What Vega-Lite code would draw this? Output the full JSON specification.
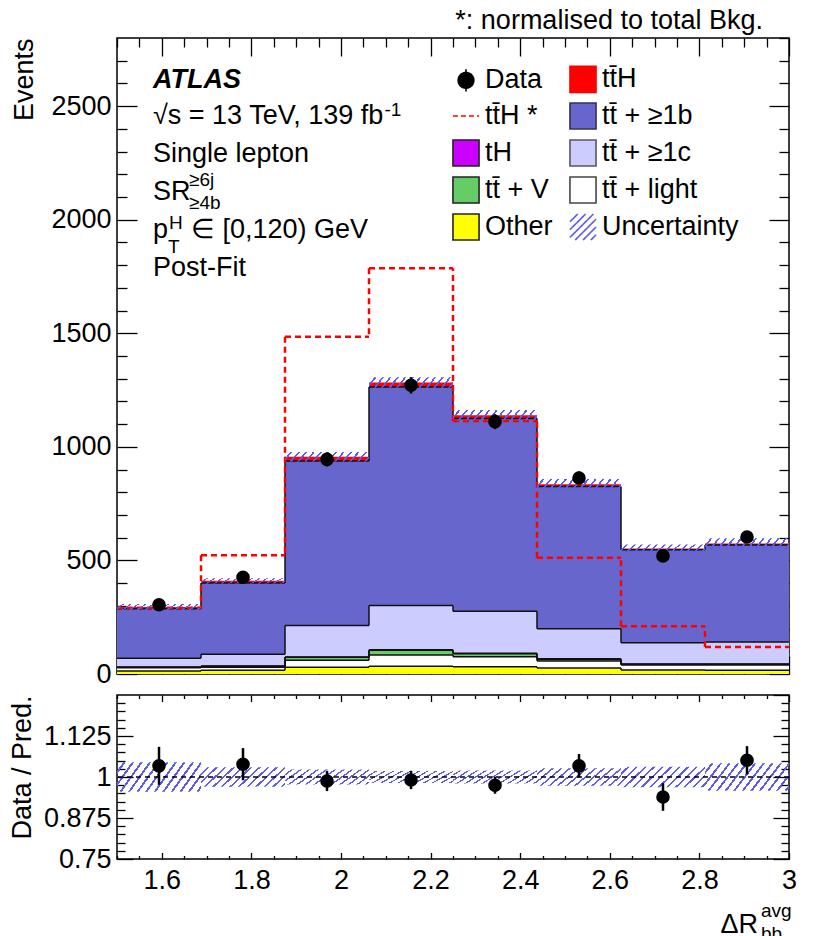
{
  "$schema": "https://vega.github.io/schema/vega-lite/v6.json",
  "description": "ATLAS ttH post-fit, dR_bb^avg, single lepton SR>=6j>=4b, pT(H) in [0,120) GeV",
  "padding": {"left": 7, "top": 6, "right": 10, "bottom": 5},
  "spacing": 0,
  "resolve": {"scale": {"x": "independent", "y": "independent"}},
  "config": {
    "view": {"stroke": "black", "strokeWidth": 1.5},
    "font": "Liberation Sans",
    "axis": {
      "domain": false, "grid": false, "zindex": 1, "minExtent": 0, "offset": 0,
      "tickColor": "black", "tickWidth": 1.3,
      "labelFont": "Liberation Sans", "labelFontSize": 27, "labelColor": "black",
      "labelOverlap": false, "labelFlush": false,
      "titleFont": "Liberation Sans", "titleFontSize": 27, "titleFontWeight": "normal", "titleColor": "black"
    },
    "legend": {"symbolFillColor": "#000000"},
    "text": {"font": "Liberation Sans", "fontSize": 27, "color": "black"}
  },
  "datasets": {
    "legend": [
      {"comp": "Data"}, {"comp": "tt\u0304H *"}, {"comp": "tH"}, {"comp": "tt\u0304 + V"}, {"comp": "Other"},
      {"comp": "tt\u0304H"}, {"comp": "tt\u0304 + \u22651b"}, {"comp": "tt\u0304 + \u22651c"}, {"comp": "tt\u0304 + light"}, {"comp": "Uncertainty"}
    ],
    "stack": [
      {"comp": "Other", "lo": 1.5, "hi": 1.6875, "base": 0, "top": 13},
      {"comp": "Other", "lo": 1.6875, "hi": 1.875, "base": 0, "top": 16},
      {"comp": "Other", "lo": 1.875, "hi": 2.0625, "base": 0, "top": 30},
      {"comp": "Other", "lo": 2.0625, "hi": 2.25, "base": 0, "top": 34},
      {"comp": "Other", "lo": 2.25, "hi": 2.4375, "base": 0, "top": 32},
      {"comp": "Other", "lo": 2.4375, "hi": 2.625, "base": 0, "top": 26},
      {"comp": "Other", "lo": 2.625, "hi": 2.8125, "base": 0, "top": 18},
      {"comp": "Other", "lo": 2.8125, "hi": 3.0, "base": 0, "top": 17},
      {"comp": "tt\u0304 + light", "lo": 1.5, "hi": 1.6875, "base": 13, "top": 28},
      {"comp": "tt\u0304 + light", "lo": 1.6875, "hi": 1.875, "base": 16, "top": 30},
      {"comp": "tt\u0304 + light", "lo": 1.875, "hi": 2.0625, "base": 30, "top": 60},
      {"comp": "tt\u0304 + light", "lo": 2.0625, "hi": 2.25, "base": 34, "top": 84},
      {"comp": "tt\u0304 + light", "lo": 2.25, "hi": 2.4375, "base": 32, "top": 76},
      {"comp": "tt\u0304 + light", "lo": 2.4375, "hi": 2.625, "base": 26, "top": 57},
      {"comp": "tt\u0304 + light", "lo": 2.625, "hi": 2.8125, "base": 18, "top": 40},
      {"comp": "tt\u0304 + light", "lo": 2.8125, "hi": 3.0, "base": 17, "top": 40},
      {"comp": "tt\u0304 + V", "lo": 1.5, "hi": 1.6875, "base": 28, "top": 30},
      {"comp": "tt\u0304 + V", "lo": 1.6875, "hi": 1.875, "base": 30, "top": 34},
      {"comp": "tt\u0304 + V", "lo": 1.875, "hi": 2.0625, "base": 60, "top": 74},
      {"comp": "tt\u0304 + V", "lo": 2.0625, "hi": 2.25, "base": 84, "top": 105},
      {"comp": "tt\u0304 + V", "lo": 2.25, "hi": 2.4375, "base": 76, "top": 89},
      {"comp": "tt\u0304 + V", "lo": 2.4375, "hi": 2.625, "base": 57, "top": 65},
      {"comp": "tt\u0304 + V", "lo": 2.625, "hi": 2.8125, "base": 40, "top": 43},
      {"comp": "tt\u0304 + V", "lo": 2.8125, "hi": 3.0, "base": 40, "top": 43},
      {"comp": "tH", "lo": 1.5, "hi": 1.6875, "base": 30, "top": 31},
      {"comp": "tH", "lo": 1.6875, "hi": 1.875, "base": 34, "top": 35},
      {"comp": "tH", "lo": 1.875, "hi": 2.0625, "base": 74, "top": 75},
      {"comp": "tH", "lo": 2.0625, "hi": 2.25, "base": 105, "top": 107},
      {"comp": "tH", "lo": 2.25, "hi": 2.4375, "base": 89, "top": 91},
      {"comp": "tH", "lo": 2.4375, "hi": 2.625, "base": 65, "top": 67},
      {"comp": "tH", "lo": 2.625, "hi": 2.8125, "base": 43, "top": 44},
      {"comp": "tH", "lo": 2.8125, "hi": 3.0, "base": 43, "top": 44},
      {"comp": "tt\u0304 + \u22651c", "lo": 1.5, "hi": 1.6875, "base": 31, "top": 69},
      {"comp": "tt\u0304 + \u22651c", "lo": 1.6875, "hi": 1.875, "base": 35, "top": 87},
      {"comp": "tt\u0304 + \u22651c", "lo": 1.875, "hi": 2.0625, "base": 75, "top": 214},
      {"comp": "tt\u0304 + \u22651c", "lo": 2.0625, "hi": 2.25, "base": 107, "top": 302},
      {"comp": "tt\u0304 + \u22651c", "lo": 2.25, "hi": 2.4375, "base": 91, "top": 276},
      {"comp": "tt\u0304 + \u22651c", "lo": 2.4375, "hi": 2.625, "base": 67, "top": 199},
      {"comp": "tt\u0304 + \u22651c", "lo": 2.625, "hi": 2.8125, "base": 44, "top": 138},
      {"comp": "tt\u0304 + \u22651c", "lo": 2.8125, "hi": 3.0, "base": 44, "top": 141},
      {"comp": "tt\u0304 + \u22651b", "lo": 1.5, "hi": 1.6875, "base": 69, "top": 287},
      {"comp": "tt\u0304 + \u22651b", "lo": 1.6875, "hi": 1.875, "base": 87, "top": 401},
      {"comp": "tt\u0304 + \u22651b", "lo": 1.875, "hi": 2.0625, "base": 214, "top": 938},
      {"comp": "tt\u0304 + \u22651b", "lo": 2.0625, "hi": 2.25, "base": 302, "top": 1263},
      {"comp": "tt\u0304 + \u22651b", "lo": 2.25, "hi": 2.4375, "base": 276, "top": 1125},
      {"comp": "tt\u0304 + \u22651b", "lo": 2.4375, "hi": 2.625, "base": 199, "top": 826},
      {"comp": "tt\u0304 + \u22651b", "lo": 2.625, "hi": 2.8125, "base": 138, "top": 547},
      {"comp": "tt\u0304 + \u22651b", "lo": 2.8125, "hi": 3.0, "base": 141, "top": 568},
      {"comp": "tt\u0304H", "lo": 1.5, "hi": 1.6875, "base": 287, "top": 295},
      {"comp": "tt\u0304H", "lo": 1.6875, "hi": 1.875, "base": 401, "top": 410},
      {"comp": "tt\u0304H", "lo": 1.875, "hi": 2.0625, "base": 938, "top": 956},
      {"comp": "tt\u0304H", "lo": 2.0625, "hi": 2.25, "base": 1263, "top": 1283},
      {"comp": "tt\u0304H", "lo": 2.25, "hi": 2.4375, "base": 1125, "top": 1139},
      {"comp": "tt\u0304H", "lo": 2.4375, "hi": 2.625, "base": 826, "top": 835},
      {"comp": "tt\u0304H", "lo": 2.625, "hi": 2.8125, "base": 547, "top": 553},
      {"comp": "tt\u0304H", "lo": 2.8125, "hi": 3.0, "base": 568, "top": 574}
    ],
    "tthnorm": [
      {"lo": 1.5, "hi": 1.6875, "v": 292},
      {"lo": 1.6875, "hi": 1.875, "v": 523},
      {"lo": 1.875, "hi": 2.0625, "v": 1485},
      {"lo": 2.0625, "hi": 2.25, "v": 1786},
      {"lo": 2.25, "hi": 2.4375, "v": 1114},
      {"lo": 2.4375, "hi": 2.625, "v": 512},
      {"lo": 2.625, "hi": 2.8125, "v": 210},
      {"lo": 2.8125, "hi": 3.0, "v": 119}
    ],
    "unc": [
      {"lo": 1.5, "hi": 1.6875, "ulo": 282, "uhi": 308},
      {"lo": 1.6875, "hi": 1.875, "ulo": 398, "uhi": 422},
      {"lo": 1.875, "hi": 2.0625, "ulo": 935, "uhi": 977},
      {"lo": 2.0625, "hi": 2.25, "ulo": 1260, "uhi": 1306},
      {"lo": 2.25, "hi": 2.4375, "ulo": 1116, "uhi": 1162},
      {"lo": 2.4375, "hi": 2.625, "ulo": 812, "uhi": 858},
      {"lo": 2.625, "hi": 2.8125, "ulo": 536, "uhi": 570},
      {"lo": 2.8125, "hi": 3.0, "ulo": 550, "uhi": 598}
    ],
    "data": [
      {"c": 1.59375, "n": 305, "nlo": 288, "nhi": 322},
      {"c": 1.78125, "n": 426, "nlo": 405, "nhi": 447},
      {"c": 1.96875, "n": 945, "nlo": 914, "nhi": 976},
      {"c": 2.15625, "n": 1271, "nlo": 1235, "nhi": 1307},
      {"c": 2.34375, "n": 1111, "nlo": 1078, "nhi": 1144},
      {"c": 2.53125, "n": 863, "nlo": 834, "nhi": 892},
      {"c": 2.71875, "n": 520, "nlo": 497, "nhi": 543},
      {"c": 2.90625, "n": 603, "nlo": 578, "nhi": 628}
    ],
    "ratio": [
      {"lo": 1.5, "hi": 1.6875, "c": 1.59375, "r": 1.034, "rlo": 0.976, "rhi": 1.092, "blo": 0.955, "bhi": 1.045},
      {"lo": 1.6875, "hi": 1.875, "c": 1.78125, "r": 1.039, "rlo": 0.99, "rhi": 1.088, "blo": 0.97, "bhi": 1.03},
      {"lo": 1.875, "hi": 2.0625, "c": 1.96875, "r": 0.988, "rlo": 0.957, "rhi": 1.019, "blo": 0.977, "bhi": 1.023},
      {"lo": 2.0625, "hi": 2.25, "c": 2.15625, "r": 0.991, "rlo": 0.963, "rhi": 1.019, "blo": 0.982, "bhi": 1.018},
      {"lo": 2.25, "hi": 2.4375, "c": 2.34375, "r": 0.975, "rlo": 0.949, "rhi": 1.001, "blo": 0.98, "bhi": 1.02},
      {"lo": 2.4375, "hi": 2.625, "c": 2.53125, "r": 1.034, "rlo": 0.998, "rhi": 1.07, "blo": 0.973, "bhi": 1.027},
      {"lo": 2.625, "hi": 2.8125, "c": 2.71875, "r": 0.939, "rlo": 0.897, "rhi": 0.981, "blo": 0.969, "bhi": 1.031},
      {"lo": 2.8125, "hi": 3.0, "c": 2.90625, "r": 1.051, "rlo": 1.008, "rhi": 1.094, "blo": 0.958, "bhi": 1.042}
    ]
  },
  "vconcat": [
    {
      "width": 672,
      "height": 636,
      "resolve": {"axis": {"x": "independent", "y": "independent"}},
      "layer": [
        {
          "data": {"name": "stack"},
          "mark": {"type": "rect"},
          "encoding": {
            "x": {
              "field": "lo", "type": "quantitative",
              "scale": {"domain": [1.5, 3], "nice": false, "zero": false},
              "axis": {
                "orient": "bottom", "title": null, "labels": false,
                "values": [1.5,1.55,1.6,1.65,1.7,1.75,1.8,1.85,1.9,1.95,2,2.05,2.1,2.15,2.2,2.25,2.3,2.35,2.4,2.45,2.5,2.55,2.6,2.65,2.7,2.75,2.8,2.85,2.9,2.95,3],
                "tickSize": {"condition": {"test": "abs(datum.value * 5 - round(datum.value * 5)) < 0.001", "value": -18}, "value": -9}
              }
            },
            "x2": {"field": "hi"},
            "y": {
              "field": "top", "type": "quantitative",
              "scale": {"domain": [0, 2800], "nice": false, "zero": false},
              "axis": {
                "orient": "left", "title": "Events", "titleAnchor": "end", "titlePadding": 12,
                "values": [0,100,200,300,400,500,600,700,800,900,1000,1100,1200,1300,1400,1500,1600,1700,1800,1900,2000,2100,2200,2300,2400,2500,2600,2700],
                "labelExpr": "datum.value % 500 === 0 ? format(datum.value, 'd') : ''",
                "labelPadding": 26,
                "tickSize": {"condition": {"test": "datum.value % 500 === 0", "value": -20}, "value": -10}
              }
            },
            "y2": {"field": "base"},
            "color": {
              "field": "comp", "type": "nominal",
              "scale": {
                "domain": ["tt\u0304H", "tt\u0304 + \u22651b", "tH", "tt\u0304 + \u22651c", "tt\u0304 + V", "tt\u0304 + light", "Other"],
                "range": ["#ff0000", "#6666cc", "#cc00ff", "#ccccff", "#66cc66", "#ffffff", "#ffff00"]
              },
              "legend": null
            }
          }
        },
        {
          "data": {"name": "stack"},
          "transform": [{"filter": "datum.comp !== 'tt\u0304H'"}],
          "mark": {"type": "rule", "color": "#111111", "strokeWidth": 1.5},
          "encoding": {
            "x": {
              "field": "lo", "type": "quantitative",
              "axis": {
                "orient": "top", "title": null, "labels": false,
                "values": [1.5,1.55,1.6,1.65,1.7,1.75,1.8,1.85,1.9,1.95,2,2.05,2.1,2.15,2.2,2.25,2.3,2.35,2.4,2.45,2.5,2.55,2.6,2.65,2.7,2.75,2.8,2.85,2.9,2.95,3],
                "tickSize": {"condition": {"test": "abs(datum.value * 5 - round(datum.value * 5)) < 0.001", "value": -18}, "value": -9}
              }
            },
            "x2": {"field": "hi"},
            "y": {
              "field": "top", "type": "quantitative",
              "axis": {
                "orient": "right", "title": null, "labels": false,
                "values": [0,100,200,300,400,500,600,700,800,900,1000,1100,1200,1300,1400,1500,1600,1700,1800,1900,2000,2100,2200,2300,2400,2500,2600,2700,2800],
                "tickSize": {"condition": {"test": "datum.value % 500 === 0", "value": -20}, "value": -10}
              }
            }
          }
        },
        {
          "data": {"name": "stack"},
          "transform": [
            {"filter": "datum.comp !== 'tt\u0304H'"},
            {"window": [{"op": "lag", "field": "top", "as": "prev"}], "groupby": ["comp"], "sort": [{"field": "lo"}]},
            {"filter": "datum.prev != null"}
          ],
          "mark": {"type": "rule", "color": "#111111", "strokeWidth": 1.5},
          "encoding": {
            "x": {"field": "lo", "type": "quantitative", "axis": null},
            "y": {"field": "top", "type": "quantitative", "axis": null},
            "y2": {"field": "prev"}
          }
        },
        {
          "data": {"name": "tthnorm"},
          "mark": {"type": "rule", "color": "#ff0000", "strokeWidth": 2.5, "strokeDash": [6, 4]},
          "encoding": {
            "x": {"field": "lo", "type": "quantitative", "axis": null},
            "x2": {"field": "hi"},
            "y": {"field": "v", "type": "quantitative", "axis": null}
          }
        },
        {
          "data": {"name": "tthnorm"},
          "transform": [
            {"window": [{"op": "lag", "field": "v", "as": "prev"}], "sort": [{"field": "lo"}]},
            {"filter": "datum.prev != null"}
          ],
          "mark": {"type": "rule", "color": "#ff0000", "strokeWidth": 2.5, "strokeDash": [6, 4]},
          "encoding": {
            "x": {"field": "lo", "type": "quantitative", "axis": null},
            "y": {"field": "v", "type": "quantitative", "axis": null},
            "y2": {"field": "prev"}
          }
        },
        {
          "data": {"name": "unc"},
          "mark": {"type": "rect", "fill": {"gradient": "linear", "x1": 0, "y1": 0, "x2": 1.1, "y2": 0.11, "stops": [
            {"offset": 0, "color": "rgba(90,90,245,0)"},
            {"offset": 0.058, "color": "rgba(90,90,245,0)"}, {"offset": 0.058, "color": "#5a5af5"}, {"offset": 0.08, "color": "#5a5af5"}, {"offset": 0.08, "color": "rgba(90,90,245,0)"},
            {"offset": 0.138, "color": "rgba(90,90,245,0)"}, {"offset": 0.138, "color": "#5a5af5"}, {"offset": 0.16, "color": "#5a5af5"}, {"offset": 0.16, "color": "rgba(90,90,245,0)"},
            {"offset": 0.218, "color": "rgba(90,90,245,0)"}, {"offset": 0.218, "color": "#5a5af5"}, {"offset": 0.24, "color": "#5a5af5"}, {"offset": 0.24, "color": "rgba(90,90,245,0)"},
            {"offset": 0.298, "color": "rgba(90,90,245,0)"}, {"offset": 0.298, "color": "#5a5af5"}, {"offset": 0.32, "color": "#5a5af5"}, {"offset": 0.32, "color": "rgba(90,90,245,0)"},
            {"offset": 0.378, "color": "rgba(90,90,245,0)"}, {"offset": 0.378, "color": "#5a5af5"}, {"offset": 0.40, "color": "#5a5af5"}, {"offset": 0.40, "color": "rgba(90,90,245,0)"},
            {"offset": 0.458, "color": "rgba(90,90,245,0)"}, {"offset": 0.458, "color": "#5a5af5"}, {"offset": 0.48, "color": "#5a5af5"}, {"offset": 0.48, "color": "rgba(90,90,245,0)"},
            {"offset": 0.538, "color": "rgba(90,90,245,0)"}, {"offset": 0.538, "color": "#5a5af5"}, {"offset": 0.56, "color": "#5a5af5"}, {"offset": 0.56, "color": "rgba(90,90,245,0)"},
            {"offset": 0.618, "color": "rgba(90,90,245,0)"}, {"offset": 0.618, "color": "#5a5af5"}, {"offset": 0.64, "color": "#5a5af5"}, {"offset": 0.64, "color": "rgba(90,90,245,0)"},
            {"offset": 0.698, "color": "rgba(90,90,245,0)"}, {"offset": 0.698, "color": "#5a5af5"}, {"offset": 0.72, "color": "#5a5af5"}, {"offset": 0.72, "color": "rgba(90,90,245,0)"},
            {"offset": 0.778, "color": "rgba(90,90,245,0)"}, {"offset": 0.778, "color": "#5a5af5"}, {"offset": 0.80, "color": "#5a5af5"}, {"offset": 0.80, "color": "rgba(90,90,245,0)"},
            {"offset": 0.858, "color": "rgba(90,90,245,0)"}, {"offset": 0.858, "color": "#5a5af5"}, {"offset": 0.88, "color": "#5a5af5"}, {"offset": 0.88, "color": "rgba(90,90,245,0)"},
            {"offset": 0.938, "color": "rgba(90,90,245,0)"}, {"offset": 0.938, "color": "#5a5af5"}, {"offset": 0.96, "color": "#5a5af5"}, {"offset": 0.96, "color": "rgba(90,90,245,0)"},
            {"offset": 1, "color": "rgba(90,90,245,0)"}
          ]}},
          "encoding": {
            "x": {"field": "lo", "type": "quantitative", "axis": null},
            "x2": {"field": "hi"},
            "y": {"field": "ulo", "type": "quantitative", "axis": null},
            "y2": {"field": "uhi"}
          }
        },
        {
          "data": {"name": "data"},
          "mark": {"type": "rule", "color": "black", "strokeWidth": 2.5},
          "encoding": {
            "x": {"field": "c", "type": "quantitative", "axis": null},
            "y": {"field": "nlo", "type": "quantitative", "axis": null},
            "y2": {"field": "nhi"}
          }
        },
        {
          "data": {"name": "data"},
          "mark": {"type": "circle", "size": 185, "color": "black", "opacity": 1},
          "encoding": {
            "x": {"field": "c", "type": "quantitative", "axis": null},
            "y": {"field": "n", "type": "quantitative", "axis": null}
          }
        },
        {
          "data": {"name": "legend"},
          "mark": {"type": "point", "filled": true, "opacity": 0},
          "encoding": {
            "x": {"datum": 2, "axis": null},
            "y": {"datum": 1000, "axis": null},
            "fill": {
              "field": "comp", "type": "nominal",
              "scale": {
                "domain": ["Data", "tt\u0304H *", "tH", "tt\u0304 + V", "Other", "tt\u0304H", "tt\u0304 + \u22651b", "tt\u0304 + \u22651c", "tt\u0304 + light", "Uncertainty"],
                "range": ["#000000", "transparent", "#cc00ff", "#66cc66", "#ffff00", "#ff0000", "#6666cc", "#ccccff", "#ffffff", "transparent"]
              },
              "legend": {
                "orient": "none", "legendX": 335, "legendY": 27, "direction": "vertical", "columns": 2,
                "title": null, "padding": 0,
                "labelFont": "Liberation Sans", "labelFontSize": 27, "labelColor": "black", "labelOffset": 5, "labelLimit": 300,
                "symbolSize": 680, "symbolStrokeWidth": 1.6, "symbolOpacity": 1,
                "rowPadding": 3, "columnPadding": 13
              }
            },
            "stroke": {
              "field": "comp", "type": "nominal",
              "scale": {
                "domain": ["Data", "tt\u0304H *", "tH", "tt\u0304 + V", "Other", "tt\u0304H", "tt\u0304 + \u22651b", "tt\u0304 + \u22651c", "tt\u0304 + light", "Uncertainty"],
                "range": ["#000000", "#ff0000", "#222222", "#222222", "#222222", "#ff0000", "#333355", "#555566", "#444444", "#5a5af5"]
              }
            },
            "shape": {
              "field": "comp", "type": "nominal",
              "scale": {
                "domain": ["Data", "tt\u0304H *", "tH", "tt\u0304 + V", "Other", "tt\u0304H", "tt\u0304 + \u22651b", "tt\u0304 + \u22651c", "tt\u0304 + light", "Uncertainty"],
                "range": [
                  "M0,-0.85L0,0.85M-0.6,0A0.6,0.6,0,1,1,0.6,0A0.6,0.6,0,1,1,-0.6,0Z",
                  "stroke",
                  "square", "square", "square", "square", "square", "square", "square",
                  "M-1,-0.4L-0.4,-1M-1,0.2L0.2,-1M-1,0.8L0.8,-1M-0.6,1L1,-0.6M0,1L1,0M0.6,1L1,0.6"
                ]
              }
            },
            "strokeDash": {
              "field": "comp", "type": "nominal",
              "scale": {
                "domain": ["Data", "tt\u0304H *", "tH", "tt\u0304 + V", "Other", "tt\u0304H", "tt\u0304 + \u22651b", "tt\u0304 + \u22651c", "tt\u0304 + light", "Uncertainty"],
                "range": [[1, 0], [5, 3], [1, 0], [1, 0], [1, 0], [1, 0], [1, 0], [1, 0], [1, 0], [1, 0]]
              }
            }
          }
        },
        {
          "data": {"values": [{}]},
          "mark": {"type": "text", "text": "*: normalised to total Bkg.", "align": "right", "baseline": "alphabetic", "dx": -26, "dy": -9},
          "encoding": {"x": {"datum": 3, "axis": null}, "y": {"datum": 2800, "axis": null}}
        },
        {
          "data": {"values": [{}]},
          "mark": {"type": "text", "text": "ATLAS", "fontWeight": "bold", "fontStyle": "italic", "align": "left", "baseline": "alphabetic"},
          "encoding": {"x": {"datum": 1.5804, "axis": null}, "y": {"datum": 2581, "axis": null}}
        },
        {
          "data": {"values": [{}]},
          "mark": {"type": "text", "text": ["\u221as = 13 TeV, 139 fb", "Single lepton", "SR", "p", "Post-Fit"], "lineHeight": 38, "align": "left", "baseline": "alphabetic"},
          "encoding": {"x": {"datum": 1.5804, "axis": null}, "y": {"datum": 2420, "axis": null}}
        },
        {
          "data": {"values": [{}]},
          "mark": {"type": "text", "text": "-1", "fontSize": 19, "align": "left", "baseline": "alphabetic"},
          "encoding": {"x": {"datum": 2.097, "axis": null}, "y": {"datum": 2457, "axis": null}}
        },
        {
          "data": {"values": [{}]},
          "mark": {"type": "text", "text": "\u22656j", "fontSize": 19, "align": "left", "baseline": "alphabetic"},
          "encoding": {"x": {"datum": 1.6607, "axis": null}, "y": {"datum": 2148, "axis": null}}
        },
        {
          "data": {"values": [{}]},
          "mark": {"type": "text", "text": "\u22654b", "fontSize": 19, "align": "left", "baseline": "alphabetic"},
          "encoding": {"x": {"datum": 1.6607, "axis": null}, "y": {"datum": 2047, "axis": null}}
        },
        {
          "data": {"values": [{}]},
          "mark": {"type": "text", "text": "H", "fontSize": 19, "align": "left", "baseline": "alphabetic"},
          "encoding": {"x": {"datum": 1.6161, "axis": null}, "y": {"datum": 1959, "axis": null}}
        },
        {
          "data": {"values": [{}]},
          "mark": {"type": "text", "text": "T", "fontSize": 19, "align": "left", "baseline": "alphabetic"},
          "encoding": {"x": {"datum": 1.6138, "axis": null}, "y": {"datum": 1855, "axis": null}}
        },
        {
          "data": {"values": [{}]},
          "mark": {"type": "text", "text": "\u2208 [0,120) GeV", "align": "left", "baseline": "alphabetic"},
          "encoding": {"x": {"datum": 1.665, "axis": null}, "y": {"datum": 1921, "axis": null}}
        }
      ]
    },
    {
      "width": 672,
      "height": 164,
      "resolve": {"axis": {"x": "independent", "y": "independent"}},
      "layer": [
        {
          "data": {"name": "ratio"},
          "mark": {"type": "rect", "fill": {"gradient": "linear", "x1": 0, "y1": 0, "x2": 1.2, "y2": 0.3, "stops": [
            {"offset": 0, "color": "rgba(90,90,245,0)"},
            {"offset": 0.058, "color": "rgba(90,90,245,0)"}, {"offset": 0.058, "color": "#5a5af5"}, {"offset": 0.08, "color": "#5a5af5"}, {"offset": 0.08, "color": "rgba(90,90,245,0)"},
            {"offset": 0.138, "color": "rgba(90,90,245,0)"}, {"offset": 0.138, "color": "#5a5af5"}, {"offset": 0.16, "color": "#5a5af5"}, {"offset": 0.16, "color": "rgba(90,90,245,0)"},
            {"offset": 0.218, "color": "rgba(90,90,245,0)"}, {"offset": 0.218, "color": "#5a5af5"}, {"offset": 0.24, "color": "#5a5af5"}, {"offset": 0.24, "color": "rgba(90,90,245,0)"},
            {"offset": 0.298, "color": "rgba(90,90,245,0)"}, {"offset": 0.298, "color": "#5a5af5"}, {"offset": 0.32, "color": "#5a5af5"}, {"offset": 0.32, "color": "rgba(90,90,245,0)"},
            {"offset": 0.378, "color": "rgba(90,90,245,0)"}, {"offset": 0.378, "color": "#5a5af5"}, {"offset": 0.40, "color": "#5a5af5"}, {"offset": 0.40, "color": "rgba(90,90,245,0)"},
            {"offset": 0.458, "color": "rgba(90,90,245,0)"}, {"offset": 0.458, "color": "#5a5af5"}, {"offset": 0.48, "color": "#5a5af5"}, {"offset": 0.48, "color": "rgba(90,90,245,0)"},
            {"offset": 0.538, "color": "rgba(90,90,245,0)"}, {"offset": 0.538, "color": "#5a5af5"}, {"offset": 0.56, "color": "#5a5af5"}, {"offset": 0.56, "color": "rgba(90,90,245,0)"},
            {"offset": 0.618, "color": "rgba(90,90,245,0)"}, {"offset": 0.618, "color": "#5a5af5"}, {"offset": 0.64, "color": "#5a5af5"}, {"offset": 0.64, "color": "rgba(90,90,245,0)"},
            {"offset": 0.698, "color": "rgba(90,90,245,0)"}, {"offset": 0.698, "color": "#5a5af5"}, {"offset": 0.72, "color": "#5a5af5"}, {"offset": 0.72, "color": "rgba(90,90,245,0)"},
            {"offset": 0.778, "color": "rgba(90,90,245,0)"}, {"offset": 0.778, "color": "#5a5af5"}, {"offset": 0.80, "color": "#5a5af5"}, {"offset": 0.80, "color": "rgba(90,90,245,0)"},
            {"offset": 0.858, "color": "rgba(90,90,245,0)"}, {"offset": 0.858, "color": "#5a5af5"}, {"offset": 0.88, "color": "#5a5af5"}, {"offset": 0.88, "color": "rgba(90,90,245,0)"},
            {"offset": 0.938, "color": "rgba(90,90,245,0)"}, {"offset": 0.938, "color": "#5a5af5"}, {"offset": 0.96, "color": "#5a5af5"}, {"offset": 0.96, "color": "rgba(90,90,245,0)"},
            {"offset": 1, "color": "rgba(90,90,245,0)"}
          ]}},
          "encoding": {
            "x": {
              "field": "lo", "type": "quantitative",
              "scale": {"domain": [1.5, 3], "nice": false, "zero": false},
              "axis": {
                "orient": "bottom", "title": null,
                "values": [1.5,1.55,1.6,1.65,1.7,1.75,1.8,1.85,1.9,1.95,2,2.05,2.1,2.15,2.2,2.25,2.3,2.35,2.4,2.45,2.5,2.55,2.6,2.65,2.7,2.75,2.8,2.85,2.9,2.95,3],
                "labelExpr": "abs(datum.value * 5 - round(datum.value * 5)) < 0.001 ? format(datum.value, '~g') : ''",
                "labelPadding": 15,
                "tickSize": {"condition": {"test": "abs(datum.value * 5 - round(datum.value * 5)) < 0.001", "value": -6.5}, "value": -3.5}
              }
            },
            "x2": {"field": "hi"},
            "y": {
              "field": "blo", "type": "quantitative",
              "scale": {"domain": [0.75, 1.25], "nice": false, "zero": false},
              "axis": {
                "orient": "left", "title": "Data / Pred.", "titleAnchor": "end", "titlePadding": 7,
                "values": [0.75,0.775,0.8,0.825,0.85,0.875,0.9,0.925,0.95,0.975,1,1.025,1.05,1.075,1.1,1.125,1.15,1.175,1.2,1.225],
                "labelExpr": "abs(datum.value * 8 - round(datum.value * 8)) < 0.001 ? format(datum.value, '~g') : ''",
                "labelPadding": 22,
                "tickSize": {"condition": {"test": "abs(datum.value * 8 - round(datum.value * 8)) < 0.001", "value": -16}, "value": -8}
              }
            },
            "y2": {"field": "bhi"}
          }
        },
        {
          "data": {"values": [{}]},
          "mark": {"type": "rule", "color": "black", "strokeWidth": 1.3, "strokeDash": [5, 4]},
          "encoding": {"y": {"datum": 1, "axis": null}}
        },
        {
          "data": {"name": "ratio"},
          "mark": {"type": "rule", "color": "black", "strokeWidth": 2.5},
          "encoding": {
            "x": {
              "field": "c", "type": "quantitative",
              "axis": {
                "orient": "top", "title": null, "labels": false,
                "values": [1.5,1.55,1.6,1.65,1.7,1.75,1.8,1.85,1.9,1.95,2,2.05,2.1,2.15,2.2,2.25,2.3,2.35,2.4,2.45,2.5,2.55,2.6,2.65,2.7,2.75,2.8,2.85,2.9,2.95,3],
                "tickSize": {"condition": {"test": "abs(datum.value * 5 - round(datum.value * 5)) < 0.001", "value": -6.5}, "value": -3.5}
              }
            },
            "y": {
              "field": "rlo", "type": "quantitative",
              "axis": {
                "orient": "right", "title": null, "labels": false,
                "values": [0.75,0.775,0.8,0.825,0.85,0.875,0.9,0.925,0.95,0.975,1,1.025,1.05,1.075,1.1,1.125,1.15,1.175,1.2,1.225,1.25],
                "tickSize": {"condition": {"test": "abs(datum.value * 8 - round(datum.value * 8)) < 0.001", "value": -16}, "value": -8}
              }
            },
            "y2": {"field": "rhi"}
          }
        },
        {
          "data": {"name": "ratio"},
          "mark": {"type": "circle", "size": 185, "color": "black", "opacity": 1},
          "encoding": {
            "x": {"field": "c", "type": "quantitative", "axis": null},
            "y": {"field": "r", "type": "quantitative", "axis": null}
          }
        },
        {
          "data": {"values": [{}]},
          "mark": {"type": "text", "text": "\u0394R", "align": "right", "baseline": "alphabetic", "dx": -31, "dy": 74},
          "encoding": {"x": {"datum": 3, "axis": null}, "y": {"datum": 0.75, "axis": null}}
        },
        {
          "data": {"values": [{}]},
          "mark": {"type": "text", "text": "avg", "fontSize": 19, "align": "left", "baseline": "alphabetic", "dx": -28, "dy": 58},
          "encoding": {"x": {"datum": 3, "axis": null}, "y": {"datum": 0.75, "axis": null}}
        },
        {
          "data": {"values": [{}]},
          "mark": {"type": "text", "text": "bb", "fontSize": 19, "align": "left", "baseline": "alphabetic", "dx": -28, "dy": 81},
          "encoding": {"x": {"datum": 3, "axis": null}, "y": {"datum": 0.75, "axis": null}}
        }
      ]
    }
  ]
}
